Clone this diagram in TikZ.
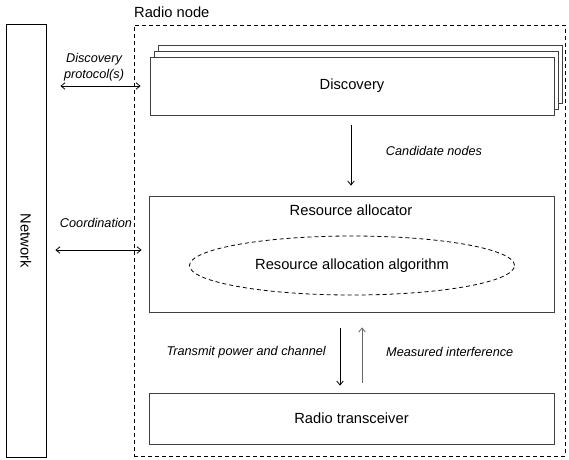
\documentclass[tikz,border=0pt]{standalone}
\usepackage{fontspec}
\setmainfont{Liberation Sans}
\usetikzlibrary{arrows.meta,shapes.geometric}
\begin{document}
\begin{tikzpicture}[x=1pt,y=-1pt,
  box/.style={draw=black!75,line width=0.8pt,fill=white,inner sep=0pt},
  dsh/.style={dash pattern=on 4pt off 3pt},
  lbl/.style={font=\fontsize{14.7}{17}\selectfont},
  ilbl/.style={font=\fontsize{12.7}{15}\selectfont\itshape,inner sep=0pt},
  arr/.style={line width=0.8pt,-{Straight Barb[length=4pt,width=6.5pt]}},
  darr/.style={line width=0.8pt,{Straight Barb[length=4pt,width=6.5pt]}-{Straight Barb[length=4pt,width=6.5pt]}}]
\useasboundingbox (0,0) rectangle (569,459);
% Network
\node[draw,line width=0.8pt,minimum width=40pt,minimum height=433pt,inner sep=0pt] (network) at (26,240.5) {};
\node[lbl,rotate=-90] (netlabel) at (network.center) {Network};
% Radio node
\node[draw,dsh,line width=0.8pt,minimum width=431pt,minimum height=431pt,inner sep=0pt] (radio) at (349.5,240.5) {};
\node[lbl,anchor=base west,inner sep=0pt] (radiolabel) at (134,17) {Radio node};
% Discovery stack
\node[box,minimum width=404pt,minimum height=58pt] (disc3) at (360,74) {};
\node[box,minimum width=404pt,minimum height=58pt] (disc2) at (356,80) {};
\node[box,minimum width=404pt,minimum height=58pt,lbl] (disc) at (352,86) {Discovery};
% Resource allocator
\node[box,minimum width=405pt,minimum height=116pt] (alloc) at (351.5,254) {};
\node[lbl] (alloclabel) at (351,210) {Resource allocator};
\node[draw,dsh,line width=0.8pt,ellipse,minimum width=325pt,minimum height=59pt,inner sep=0pt,lbl] (algo) at (352,265.5) {Resource allocation algorithm};
% Radio transceiver
\node[box,minimum width=405pt,minimum height=51pt,lbl] (trans) at (351.5,418.5) {Radio transceiver};
% Connectors
\draw[darr] ([xshift=14pt]network.east |- disc.west) -- ([xshift=-9pt]disc.west);
\node[ilbl,align=center] (dplabel) at (94,67) {Discovery\\[1pt]protocol(s)};
\draw[darr] ([xshift=9pt,yshift=4pt]network.east |- alloc.west) -- ([xshift=-7pt,yshift=4pt]alloc.west);
\node[ilbl] (coordlabel) at (96,223) {Coordination};
\draw[arr] ([xshift=-1pt,yshift=-10pt]disc.south) -- ([xshift=-0.5pt,yshift=10pt]alloc.north);
\node[ilbl] (candlabel) at (434,151) {Candidate nodes};
\draw[arr] ([xshift=-11.5pt,yshift=-16pt]alloc.south) -- ([xshift=-11.5pt,yshift=7pt]trans.north);
\draw[arr,draw=black!60] ([xshift=10.5pt,yshift=10pt]trans.north) -- ([xshift=10.5pt,yshift=-15pt]alloc.south);
\node[ilbl,anchor=east] (txlabel) at (326,352) {Transmit power and channel};
\node[ilbl,anchor=west] (mlabel) at (386,352) {Measured interference};
\end{tikzpicture}
\end{document}
